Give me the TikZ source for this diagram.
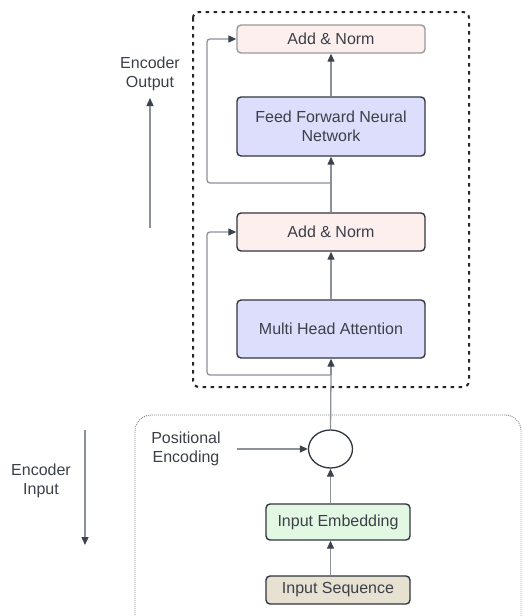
\documentclass[tikz,border=0pt]{standalone}
\usepackage{fontspec}
\setmainfont{Liberation Sans}
\usetikzlibrary{arrows.meta,shapes.geometric}

\definecolor{txt}{HTML}{3B4048}
\definecolor{edge}{HTML}{8C9099}
\definecolor{tipc}{HTML}{3C434D}
\definecolor{boxline}{HTML}{30363F}
\definecolor{normfill}{HTML}{FDEFEE}
\definecolor{layerfill}{HTML}{DDDEFB}
\definecolor{embfill}{HTML}{E3F8E3}
\definecolor{seqfill}{HTML}{E6E1D1}

\tikzset{
  blockbox/.style={draw=boxline, line width=1.4pt, rounded corners=4pt,
    text=txt, align=center, inner sep=0pt,
    font=\fontsize{16}{19}\selectfont},
  normbox/.style={blockbox, fill=normfill, minimum width=188pt},
  layerbox/.style={blockbox, fill=layerfill, minimum width=188pt},
  inbox/.style={blockbox, minimum width=144pt},
  label/.style={text=txt, align=center, font=\fontsize{16}{19}\selectfont},
  flow/.style={draw=edge, line width=1.3pt,
    -{Triangle[length=8pt,width=7pt,color=tipc]}},
  plain/.style={draw=edge, line width=1.3pt},
}

\begin{document}
\begin{tikzpicture}[x=1pt, y=-1pt]
\useasboundingbox (0,0) rectangle (524,616);

% encoder layer frame
\draw[line width=2pt, dash pattern=on 3.5pt off 4.5pt, rounded corners=6pt, draw=black!85]
  (193,12) rectangle (469,387);

% input stage frame (runs off the bottom)
\draw[line width=0.9pt, dash pattern=on 0.9pt off 1.1pt, draw=black!50, rounded corners=16pt]
  (135,625) |- (521,415) -- (521,625);

% blocks
\node[normbox, minimum height=28pt, draw=black!40] (an2) at (331,39) {Add \& Norm};
\node[layerbox, minimum height=59pt] (ffn) at (331,126.5) {Feed Forward Neural\\Network};
\node[normbox, minimum height=38pt] (an1) at (331,232) {Add \& Norm};
\node[layerbox, minimum height=58pt] (mha) at (331,329) {Multi Head Attention};
\node[draw=boxline, line width=1.3pt, ellipse, minimum width=44pt, minimum height=38pt, inner sep=0pt] (sum) at (330.5,449) {};
\node[inbox, fill=embfill, minimum height=36pt] (emb) at (338,522) {Input Embedding};
\node[inbox, fill=seqfill, minimum height=28pt] (seq) at (338,590) {Input Sequence};

% side labels
\node[label] (pos) at (186,448.5) {Positional\\Encoding};
\node[label] (eout) at (150,74) {Encoder\\Output};
\node[label] (ein) at (41,481) {Encoder\\Input};

\coordinate (posstart) at (237,449);
\coordinate (outlow) at (150,228);
\coordinate (outhigh) at (150,98);
\coordinate (inhigh) at (85,430);
\coordinate (inlow) at (85,545);
\coordinate (split1) at (331,375);
\coordinate (split2) at (331,183);

% main data path
\draw[flow] (sum |- seq.north) -- (sum |- emb.south);
\draw[flow] (sum |- emb.north) -- (sum.south);
\draw[plain] (sum.north) -- (split1);
\draw[flow] (split1) -- (mha.south);
\draw[flow] (mha.north) -- (an1.south);
\draw[plain] (an1.north) -- (split2);
\draw[flow] (split2) -- (ffn.south);
\draw[flow] (ffn.north) -- (an2.south);

% residual connections
\draw[flow, rounded corners=3pt] (split1) -| (207,300) |- (an1.west);
\draw[flow, rounded corners=3pt] (split2) -| (207,100) |- (an2.west);

% positional encoding input
\draw[flow] (posstart) -- (sum.west);

% direction arrows
\draw[flow] (outlow) -- (outhigh);
\draw[flow] (inhigh) -- (inlow);
\end{tikzpicture}
\end{document}
